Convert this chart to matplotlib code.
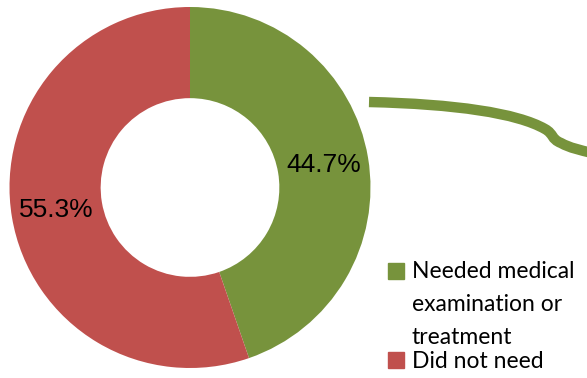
import matplotlib.pyplot as plt
from matplotlib.path import Path
from matplotlib.patches import PathPatch, Rectangle

# share of respondents
labels = ['Needed medical\nexamination or\ntreatment', 'Did not need']
shares = [44.7, 55.3]
colors = ['#77933C', '#C0504D']

W, H = 587, 378
fig = plt.figure(figsize=(W / 100, H / 100), dpi=100)

# donut axes, square box in pixels
cx, cy, r = 190, 187.5, 180.5
ax = fig.add_axes([(cx - r) / W, (H - cy - r) / H, 2 * r / W, 2 * r / H])
wedges, texts, autotexts = ax.pie(
    shares, colors=colors, startangle=90, counterclock=False,
    radius=1, wedgeprops=dict(width=0.505, linewidth=0),
    autopct='%.1f%%', pctdistance=0.75,
    textprops=dict(fontsize=19, family='Liberation Sans', color='black'))
ax.set_xlim(-1, 1)
ax.set_ylim(-1, 1)
ax.set_aspect('equal')
ax.axis('off')

# connector line to the right (figure pixels, y from top)
def fp(x, y):
    return (x / W, 1 - y / H)

verts = [fp(369, 102),
         fp(455, 104), fp(517, 113), fp(545, 129),
         fp(554, 134), fp(551, 139), fp(561, 143),
         fp(570, 148), fp(580, 150), fp(592, 153)]
codes = [Path.MOVETO] + [Path.CURVE4] * 9
fig.patches.append(PathPatch(Path(verts, codes), transform=fig.transFigure,
                             facecolor='none', edgecolor=colors[0],
                             linewidth=7.5, capstyle='butt'))

# legend drawn by hand, one baseline per text line
entries = [(263, [278, 311, 344]), (352, [368])]
for lab, col, (ysq, bases) in zip(labels, colors, entries):
    x0, y0 = fp(388, ysq + 16)
    fig.patches.append(Rectangle((x0, y0), 16 / W, 16 / H,
                                 transform=fig.transFigure, color=col))
    for line, b in zip(lab.split('\n'), bases):
        tx, ty = fp(412, b)
        fig.text(tx, ty, line, va='baseline', ha='left', fontsize=16.5,
                 family='Lato', color='black')

fig.savefig('out.png', dpi=100)
